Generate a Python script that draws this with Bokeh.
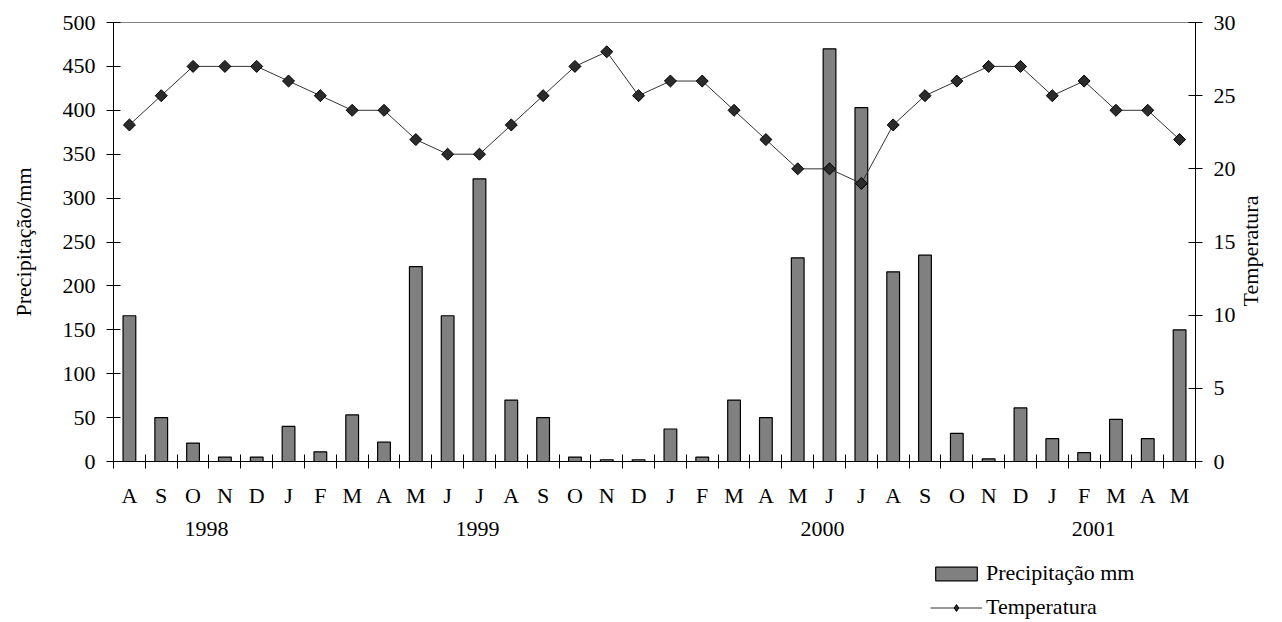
from bokeh.plotting import figure
from bokeh.models import Range1d, LinearAxis, FixedTicker, Legend, LegendItem, ColumnDataSource
from bokeh.layouts import column
from bokeh.embed import file_html
from bokeh.resources import INLINE
import numpy as np

# ---- data ----
months = ["A", "S", "O", "N", "D", "J", "F", "M", "A", "M", "J", "J",
          "A", "S", "O", "N", "D", "J", "F", "M", "A", "M", "J", "J",
          "A", "S", "O", "N", "D", "J", "F", "M", "A", "M"]
precip = [166, 50, 21, 5, 5, 40, 11, 53, 22, 222, 166, 322,
          70, 50, 5, 2, 2, 37, 5, 70, 50, 232, 470, 403,
          216, 235, 32, 3, 61, 26, 10, 48, 26, 150]
temp = [23, 25, 27, 27, 27, 26, 25, 24, 24, 22, 21, 21,
        23, 25, 27, 28, 25, 26, 26, 24, 22, 20, 20, 19,
        23, 25, 26, 27, 27, 25, 26, 24, 24, 22]
years = ["1998", "1999", "2000", "2001"]
year_pos = [2.42, 10.94, 21.78, 30.3]
temp_title = "Temperatura"
temp_title_anchor = 10.6   # label starts here (text reads bottom-to-top)

FONT = "Liberation Serif"
FS = "22px"

idx = list(range(len(months)))
src = ColumnDataSource(dict(x=idx, precip=precip, temp=temp))

BAR_STYLE = dict(fill_color="#808080", line_color="black", line_width=1.2)
LINE_STYLE = dict(line_color="#333333", line_width=1)
MARK_STYLE = dict(marker="square", angle=np.pi / 4, size=8.5, fill_color="#2b2b2b",
                  line_color="black", line_width=1)

p = figure(width=1278, height=545, output_backend="svg", toolbar_location=None,
           x_range=Range1d(-0.5, len(months) - 0.5), y_range=Range1d(0, 500),
           min_border_left=113, min_border_right=83, min_border_top=22, min_border_bottom=84,
           x_axis_type=None, y_axis_type=None)
p.extra_y_ranges = {"temp": Range1d(0, 30)}
p.grid.visible = False
p.outline_line_color = "#808080"
p.outline_line_width = 1

def style_axis(ax):
    ax.axis_line_color = "black"
    ax.major_tick_line_color = "black"
    ax.minor_tick_line_color = "black"
    ax.major_label_text_font = FONT
    ax.major_label_text_font_size = FS
    ax.major_label_text_color = "black"
    ax.axis_label_text_font = FONT
    ax.axis_label_text_font_size = FS
    ax.axis_label_text_font_style = "normal"
    ax.axis_label_text_color = "black"

# left axis
yl = LinearAxis(ticker=FixedTicker(ticks=list(range(0, 501, 50))), axis_label="Precipitação/mm")
style_axis(yl)
yl.major_tick_in = 7
yl.major_tick_out = 7
yl.minor_tick_line_color = None
yl.major_label_standoff = 11
yl.axis_label_standoff = 24
p.add_layout(yl, "left")

# right axis
yr = LinearAxis(y_range_name="temp", ticker=FixedTicker(ticks=list(range(0, 31, 5))))
style_axis(yr)
yr.major_tick_in = 7
yr.major_tick_out = 7
yr.minor_tick_line_color = None
yr.major_label_standoff = 11
p.add_layout(yr, "right")

# right title (as a rotated label reading bottom-to-top)
yt = LinearAxis(y_range_name="temp", ticker=FixedTicker(ticks=[temp_title_anchor], minor_ticks=[]))
style_axis(yt)
yt.axis_line_color = None
yt.major_tick_line_color = None
yt.minor_tick_line_color = None
yt.major_tick_in = 0
yt.major_tick_out = 0
yt.major_label_overrides = {temp_title_anchor: temp_title}
yt.major_label_orientation = np.pi / 2
yt.major_label_standoff = 12
p.add_layout(yt, "right")

# month axis
xm = LinearAxis(ticker=FixedTicker(ticks=idx, minor_ticks=[i - 0.5 for i in range(len(months) + 1)]))
style_axis(xm)
xm.major_label_overrides = {i: m for i, m in enumerate(months)}
xm.major_tick_in = 0
xm.major_tick_out = 0
xm.minor_tick_in = 7
xm.minor_tick_out = 7
xm.major_label_standoff = 14
p.add_layout(xm, "below")

# year axis
xy = LinearAxis(ticker=FixedTicker(ticks=year_pos, minor_ticks=[]))
style_axis(xy)
xy.axis_line_color = None
xy.major_tick_line_color = None
xy.minor_tick_line_color = None
xy.major_label_overrides = {float(v): y for v, y in zip(year_pos, years)}
xy.major_label_standoff = 5
p.add_layout(xy, "below")

p.vbar(x="x", top="precip", width=0.4, bottom=0, source=src, **BAR_STYLE)
p.line(x="x", y="temp", source=src, y_range_name="temp", **LINE_STYLE)
p.scatter(x="x", y="temp", source=src, y_range_name="temp", **MARK_STYLE)

# ---- legend strip below the chart ----
q = figure(width=1278, height=75, output_backend="svg", toolbar_location=None,
           x_range=Range1d(-0.5, len(months) - 0.5), y_range=Range1d(1000, 1001),
           min_border=0, x_axis_type=None, y_axis_type=None)
q.grid.visible = False
q.outline_line_color = None
lb = q.vbar(x="x", top="precip", width=0.4, bottom=0, source=src, **BAR_STYLE)
ll = q.line(x="x", y="temp", source=src, **LINE_STYLE)
lm = q.scatter(x="x", y="temp", source=src, marker="diamond", size=12,
               fill_color="#2b2b2b", line_color="black", line_width=1)

legend = Legend(items=[LegendItem(label="Precipitação mm", renderers=[lb]),
                       LegendItem(label="Temperatura", renderers=[ll, lm])],
                location=(817, 0))
legend.label_text_font = FONT
legend.label_text_font_size = FS
legend.label_text_color = "black"
legend.glyph_width = 52
legend.glyph_height = 17
legend.label_standoff = 4
legend.spacing = 8
legend.padding = 0
legend.margin = 0
legend.border_line_color = None
legend.background_fill_alpha = 0
q.add_layout(legend)

layout = column(p, q, spacing=0)
open("out.html", "w").write(file_html(layout, INLINE))
